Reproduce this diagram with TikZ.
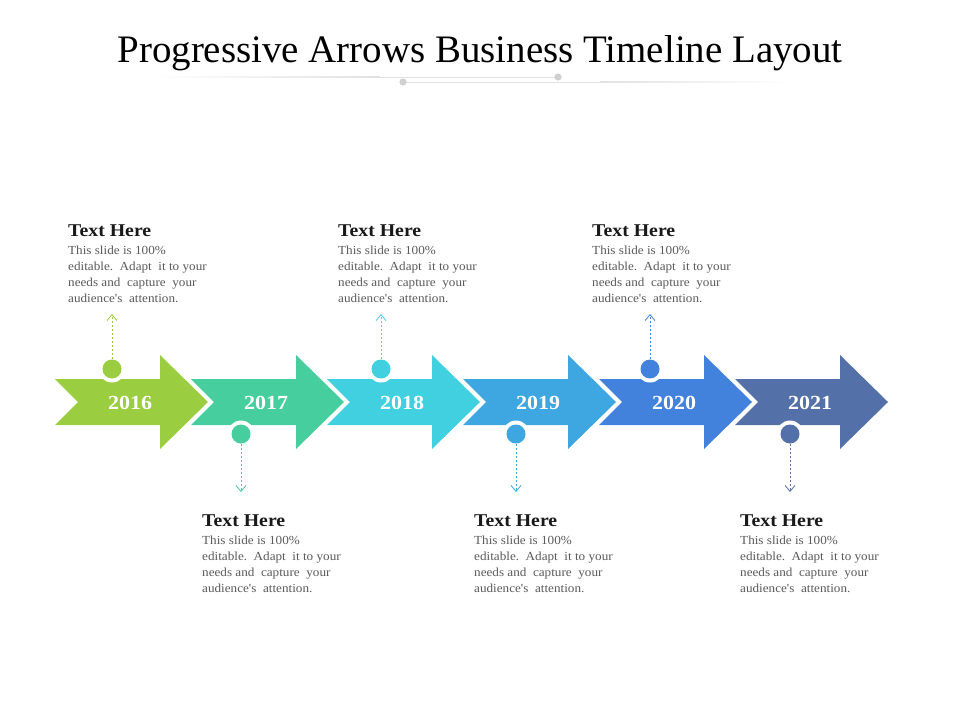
\documentclass[tikz,border=0pt]{standalone}
\usepackage{fontspec}
\setmainfont{Liberation Serif}
\newfontfamily\widefont[FakeStretch=1.1]{Liberation Serif}
\newfontfamily\bodyfont[FakeStretch=1.07]{Liberation Serif}
\usetikzlibrary{arrows.meta}
\definecolor{cA}{RGB}{154,206,64}
\definecolor{cB}{RGB}{70,206,158}
\definecolor{cC}{RGB}{64,208,224}
\definecolor{cD}{RGB}{62,166,224}
\definecolor{cE}{RGB}{66,130,220}
\definecolor{cF}{RGB}{84,112,168}
\definecolor{bodygray}{RGB}{90,90,90}
\definecolor{decogray}{RGB}{225,225,225}
\definecolor{dotgray}{RGB}{208,208,208}
\tikzset{
  yearlbl/.style={text=white,font=\widefont\fontsize{20}{20}\selectfont\bfseries,inner sep=0},
  headlbl/.style={anchor=base west,inner sep=0,text=black!90,font=\widefont\fontsize{18}{18}\selectfont\bfseries},
  bodylbl/.style={anchor=base west,inner sep=0,text=bodygray,font=\bodyfont\fontsize{12.3}{16}\selectfont},
  dashln/.style={dashed,dash pattern=on 2.5pt off 1.5pt,line width=0.8pt,-{Straight Barb[length=6pt,width=10pt,line width=0.8pt]}},
}
\newcommand{\arrowshape}[2]{% offset, colour
  \fill[#2] (55+#1,379) -- (160+#1,379) -- (160+#1,355) -- (208+#1,402) -- (160+#1,449) -- (160+#1,425) -- (55+#1,425) -- (78+#1,402) -- cycle;}
\newcommand{\tblock}[3]{% name, x, heading baseline y
  \node[headlbl] (#1h) at (#2,#3) {Text Here};
  \node[bodylbl] (#1a) at (#2,#3+18) {This slide is 100\%};
  \node[bodylbl] (#1b) at (#2,#3+34) {editable.\ \ Adapt\ \ it to your};
  \node[bodylbl] (#1c) at (#2,#3+50) {needs and\ \ capture\ \ your};
  \node[bodylbl] (#1d) at (#2,#3+66) {audience's\ \ attention.};}
\begin{document}
\begin{tikzpicture}[x=1pt,y=-1pt]
\useasboundingbox[fill=white] (0,0) rectangle (960,720);
% title
\node[inner sep=0,anchor=base] (title) at (480,62) {\resizebox{725pt}{27pt}{\fontsize{40}{40}\selectfont Progressive Arrows Business Timeline Layout}};
% decoration
\shade[left color=white,right color=decogray] (150,76.5) rectangle (380,77.5);
\fill[decogray] (380,76.5) rectangle (558,77.5);
\fill[decogray] (403,81.5) rectangle (600,82.5);
\shade[left color=decogray,right color=white] (600,81.5) rectangle (790,82.5);
\fill[dotgray] (558,77) circle (3.6);
\fill[dotgray] (403,82) circle (3.6);
% arrows
\arrowshape{0}{cA}
\arrowshape{136}{cB}
\arrowshape{272}{cC}
\arrowshape{408}{cD}
\arrowshape{544}{cE}
\arrowshape{680}{cF}
% years
\node[yearlbl] (y1) at (130,403) {2016};
\node[yearlbl] (y2) at (266,403) {2017};
\node[yearlbl] (y3) at (402,403) {2018};
\node[yearlbl] (y4) at (538,403) {2019};
\node[yearlbl] (y5) at (674,403) {2020};
\node[yearlbl] (y6) at (810,403) {2021};
% markers
\foreach \nm/\x/\y/\c in {m1/112/369/cA,m2/241/434/cB,m3/381/369/cC,m4/516/434/cD,m5/650/369/cE,m6/790/434/cF}{
  \fill[white] (\x,\y) circle (13.5);
  \node[circle,fill=\c,minimum size=19pt,inner sep=0] (\nm) at (\x,\y) {};
}
% connector ends
\coordinate (e1) at (112,314);
\coordinate (e2) at (241,492);
\coordinate (e3) at (381,314);
\coordinate (e4) at (516,492);
\coordinate (e5) at (650,314);
\coordinate (e6) at (790,492);
\draw[dashln,cA] (m1.north) -- (e1);
\draw[dashln,cB] (m2.south) -- (e2);
\draw[dashln,cC] (m3.north) -- (e3);
\draw[dashln,cD] (m4.south) -- (e4);
\draw[dashln,cE] (m5.north) -- (e5);
\draw[dashln,cF] (m6.south) -- (e6);
% text blocks
\tblock{t1}{68}{236}
\tblock{t2}{202}{526}
\tblock{t3}{338}{236}
\tblock{t4}{474}{526}
\tblock{t5}{592}{236}
\tblock{t6}{740}{526}
\end{tikzpicture}
\end{document}
